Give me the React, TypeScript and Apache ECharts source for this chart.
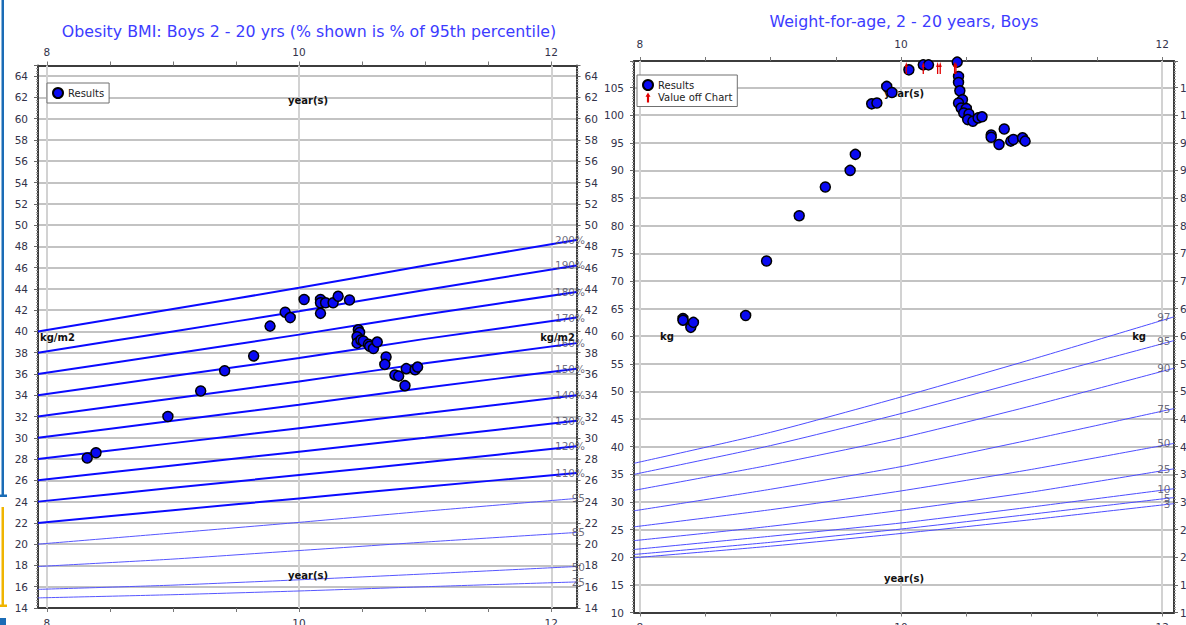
import React, { useEffect, useRef } from 'react';
import * as echarts from 'echarts';

const FONT = '"DejaVu Sans", Verdana, sans-serif';

// ---------------- shared age axis ----------------
const ageTicks = [8, 8.5, 9, 9.5, 10, 10.5, 11, 11.5, 12];
const ageLabels = [8, 10, 12];
const ageGridLines = [8, 10, 12];

// ---------------- Obesity BMI (left chart) ----------------
const bmiTitle = 'Obesity BMI: Boys 2 - 20 yrs (% shown is % of 95th percentile)';
const bmiAgeMin = 7.93;
const bmiAgeMax = 12.2;
const bmiMin = 14;
const bmiMax = 65;
const bmiInterval = 2;

const bmiCurveAges = [7.93, 9, 10, 11, 12.2];
const bmiPct200 = [40.0, 42.1, 44.1, 46.2, 48.6];
const bmiPct190 = [38.0, 40.0, 41.9, 43.9, 46.2];
const bmiPct180 = [36.0, 37.9, 39.7, 41.6, 43.7];
const bmiPct170 = [34.0, 35.8, 37.5, 39.3, 41.3];
const bmiPct160 = [32.0, 33.7, 35.3, 37.0, 38.9];
const bmiPct150 = [30.0, 31.6, 33.1, 34.7, 36.5];
const bmiPct140 = [28.0, 29.5, 30.9, 32.3, 34.0];
const bmiPct130 = [26.0, 27.4, 28.7, 30.0, 31.6];
const bmiPct120 = [24.0, 25.3, 26.5, 27.7, 29.2];
const bmiPct110 = [22.0, 23.2, 24.3, 25.4, 26.7];
const bmiP95 = [20.0, 21.05, 22.05, 23.1, 24.3];
const bmiP85 = [17.9, 18.6, 19.4, 20.2, 21.1];
const bmiP50 = [15.75, 16.15, 16.65, 17.2, 17.9];
const bmiP25 = [14.95, 15.25, 15.6, 16.0, 16.45];

const bmiPercentCurves = [
  { label: '200%', values: bmiPct200 },
  { label: '190%', values: bmiPct190 },
  { label: '180%', values: bmiPct180 },
  { label: '170%', values: bmiPct170 },
  { label: '160%', values: bmiPct160 },
  { label: '150%', values: bmiPct150 },
  { label: '140%', values: bmiPct140 },
  { label: '130%', values: bmiPct130 },
  { label: '120%', values: bmiPct120 },
  { label: '110%', values: bmiPct110 },
];
const bmiPercentileCurves = [
  { label: '95', values: bmiP95 },
  { label: '85', values: bmiP85 },
  { label: '50', values: bmiP50 },
  { label: '25', values: bmiP25 },
];

const bmiResultAges = [
  8.32, 8.39, 8.96, 9.22, 9.41, 9.64, 9.77, 9.89, 9.93, 10.04, 10.17, 10.17, 10.21, 10.17,
  10.27, 10.31, 10.4, 10.47, 10.48, 10.46, 10.46, 10.49, 10.51, 10.55, 10.56, 10.59, 10.62,
  10.69, 10.68, 10.76, 10.79, 10.84, 10.85, 10.92, 10.94,
];
const bmiResultValues = [
  28.1, 28.6, 32.0, 34.4, 36.3, 37.7, 40.5, 41.8, 41.3, 43.0, 43.0, 42.7, 42.7, 41.7,
  42.7, 43.3, 42.95, 40.15, 39.9, 39.5, 38.9, 39.2, 39.1, 38.8, 38.6, 38.4, 39.0,
  37.6, 36.9, 35.9, 35.8, 34.9, 36.5, 36.4, 36.65,
];

// ---------------- Weight-for-age (right chart) ----------------
const weightTitle = 'Weight-for-age, 2 - 20 years, Boys';
const weightAgeMin = 7.955;
const weightAgeMax = 12.09;
const weightMin = 10;
const weightMax = 109.8;
const weightInterval = 5;

const weightCurveAges = [7.955, 9, 10, 11, 12.09];
const wP97 = [37.0, 42.6, 49.0, 55.8, 63.5];
const wP95 = [35.0, 40.2, 46.0, 52.3, 59.2];
const wP90 = [32.1, 36.7, 41.6, 47.4, 54.2];
const wP75 = [28.4, 32.3, 36.4, 41.3, 46.9];
const wP50 = [25.5, 28.6, 32.0, 35.9, 40.6];
const wP25 = [23.0, 25.6, 28.5, 31.8, 36.0];
const wP10 = [21.4, 23.8, 26.2, 29.1, 32.4];
const wP5 = [20.5, 22.7, 25.1, 27.8, 30.8];
const wP3 = [19.9, 22.0, 24.3, 26.8, 29.7];

const weightCurves = [
  { label: '97', values: wP97 },
  { label: '95', values: wP95 },
  { label: '90', values: wP90 },
  { label: '75', values: wP75 },
  { label: '50', values: wP50 },
  { label: '25', values: wP25 },
  { label: '10', values: wP10 },
  { label: '5', values: wP5 },
  { label: '3', values: wP3 },
];

const weightResultAges = [
  8.33, 8.33, 8.39, 8.41, 8.81, 8.97, 9.22, 9.42, 9.61, 9.65, 9.775, 9.815, 9.89, 9.93,
  10.06, 10.17, 10.21, 10.43, 10.44, 10.44, 10.45, 10.47, 10.44, 10.46, 10.5, 10.48, 10.52,
  10.51, 10.55, 10.59, 10.62, 10.69, 10.69, 10.79, 10.75, 10.84, 10.86, 10.93, 10.95,
];
const weightResultValues = [
  63.2, 62.9, 61.6, 62.5, 63.75, 73.6, 81.8, 87.0, 90.0, 92.9, 102.05, 102.2, 105.2, 104.1,
  108.2, 109.1, 109.1, 109.6, 107.0, 105.9, 104.4, 102.8, 102.2, 101.3, 101.2, 100.4, 100.2,
  99.2, 98.9, 99.5, 99.7, 96.4, 96.0, 97.5, 94.7, 95.3, 95.6, 95.9, 95.3,
];
// ages of results whose weight is above the chart's top
const offChartAges = [10.04, 10.17, 10.28, 10.3, 10.41, 10.42];

// ---------------- styles ----------------
const FRAME = { color: '#3c3c3c', width: 2 };
const LABEL = { color: '#33334a', fontSize: 10.5, fontFamily: FONT };
const HEAVY_LINE = { color: '#0a0aff', width: 2 };
const THIN_LINE = { color: '#5656ff', width: 1 };
const WEIGHT_LINE = { color: '#4d4dff', width: 1 };
const ARROW_PATH = 'path://M3,0 L6,5 L4.3,5 L4.3,12 L1.7,12 L1.7,5 L0,5 Z';

function xAxisCfg(gridIndex: number, position: string, min: number, max: number, margin: number) {
  return {
    type: 'value',
    gridIndex,
    position,
    min,
    max,
    axisLine: { show: true, onZero: false, lineStyle: FRAME },
    axisTick: { show: true, length: 4, customValues: ageTicks, lineStyle: { color: '#777', width: 1 } },
    axisLabel: { ...LABEL, margin, customValues: ageLabels },
    splitLine: { show: false },
  };
}

function yAxisCfg(
  gridIndex: number,
  position: string,
  min: number,
  max: number,
  interval: number,
  minorSplit: number,
  margin: number,
  showSplit: boolean,
) {
  return {
    type: 'value',
    gridIndex,
    position,
    min,
    max,
    interval,
    axisLine: { show: true, onZero: false, lineStyle: FRAME },
    axisTick: { show: true, length: 4, lineStyle: { color: '#666', width: 1 } },
    minorTick: { show: true, splitNumber: minorSplit, length: 2, lineStyle: { color: '#999', width: 1 } },
    axisLabel: {
      ...LABEL,
      margin,
      formatter: (v: number) => {
        const r = v / interval;
        return Math.abs(r - Math.round(r)) < 1e-6 ? String(Math.round(v)) : '';
      },
    },
    splitLine: { show: showSplit, lineStyle: { color: '#c3c3c3', width: 2 } },
    minorSplitLine: { show: false },
  };
}

function curveSeries(name: string, ages: number[], values: number[], axis: number, lineStyle: any, extra: any = {}) {
  return {
    type: 'line',
    name,
    xAxisIndex: axis,
    yAxisIndex: axis,
    data: ages.map((a, i) => [a, values[i]]),
    smooth: 0.2,
    symbol: 'none',
    showSymbol: false,
    silent: true,
    lineStyle,
    z: 3,
    ...extra,
  };
}

function endLabelSeries(curves: { label: string; values: number[] }[], ages: number[], axis: number, distance: number) {
  const last = ages.length - 1;
  return {
    type: 'scatter',
    xAxisIndex: axis,
    yAxisIndex: axis,
    silent: true,
    clip: false,
    symbolSize: 1,
    itemStyle: { color: 'rgba(0,0,0,0)' },
    z: 4,
    data: curves.map((c) => ({ name: c.label, value: [ages[last], c.values[last]] })),
    label: {
      show: true,
      position: 'left',
      distance,
      formatter: '{b}',
      color: '#4a4a5e',
      fontSize: 10.5,
      fontFamily: FONT,
    },
  };
}

function gridLineMarks() {
  return {
    silent: true,
    symbol: ['none', 'none'],
    z: 1,
    label: { show: false },
    lineStyle: { color: '#d2d2d2', width: 2, type: 'solid' },
    data: ageGridLines.map((a) => ({ xAxis: a })),
  };
}

const RESULT_STYLE = { color: '#0a0af2', borderColor: '#000', borderWidth: 1.5, opacity: 1 };

function unitText(text: string, x: number, y: number, align: string) {
  return {
    type: 'text',
    x,
    y,
    z: 4,
    style: { text, align, verticalAlign: 'middle', fill: '#111', font: `bold 10px ${FONT}` },
  };
}

function buildOption() {
  const leftLines = [
    ...bmiPercentCurves.map((c, i) =>
      curveSeries(c.label, bmiCurveAges, c.values, 0, HEAVY_LINE, i === 0 ? { markLine: gridLineMarks() } : {}),
    ),
    ...bmiPercentileCurves.map((c) => curveSeries(c.label, bmiCurveAges, c.values, 0, THIN_LINE)),
  ];
  const rightLines = weightCurves.map((c, i) =>
    curveSeries('w' + c.label, weightCurveAges, c.values, 2, WEIGHT_LINE, i === 0 ? { markLine: gridLineMarks() } : {}),
  );

  return {
    animation: false,
    backgroundColor: '#ffffff',
    title: [
      {
        text: bmiTitle,
        left: 309,
        top: 23,
        padding: 0,
        textAlign: 'center',
        textStyle: { color: '#3c3cff', fontSize: 15.8, fontWeight: 'normal', fontFamily: FONT },
      },
      {
        text: weightTitle,
        left: 904,
        top: 13,
        padding: 0,
        textAlign: 'center',
        textStyle: { color: '#3c3cff', fontSize: 15.8, fontWeight: 'normal', fontFamily: FONT },
      },
    ],
    legend: [
      {
        left: 47,
        top: 83,
        orient: 'vertical',
        data: ['Results'],
        padding: [4, 5, 4, 5],
        itemWidth: 10,
        itemHeight: 10,
        itemGap: 2,
        selectedMode: false,
        backgroundColor: '#fff',
        borderColor: '#707070',
        borderWidth: 1,
        textStyle: { color: '#222', fontSize: 10, fontFamily: FONT },
      },
      {
        left: 637,
        top: 75,
        orient: 'vertical',
        data: ['Results', 'Value off Chart'],
        padding: [4, 5, 4, 5],
        itemWidth: 10,
        itemHeight: 10,
        itemGap: 1.5,
        selectedMode: false,
        backgroundColor: '#fff',
        borderColor: '#707070',
        borderWidth: 1,
        textStyle: { color: '#222', fontSize: 10, fontFamily: FONT },
      },
    ],
    grid: [
      { left: 38, top: 65.5, width: 538.5, height: 542.5, containLabel: false, outerBoundsMode: 'none' },
      { left: 634, top: 61, width: 540, height: 551.5, containLabel: false, outerBoundsMode: 'none' },
    ],
    xAxis: [
      xAxisCfg(0, 'bottom', bmiAgeMin, bmiAgeMax, 9),
      xAxisCfg(0, 'top', bmiAgeMin, bmiAgeMax, 8),
      xAxisCfg(1, 'bottom', weightAgeMin, weightAgeMax, 9),
      xAxisCfg(1, 'top', weightAgeMin, weightAgeMax, 12),
    ],
    yAxis: [
      yAxisCfg(0, 'left', bmiMin, bmiMax, bmiInterval, 8, 10, true),
      yAxisCfg(0, 'right', bmiMin, bmiMax, bmiInterval, 8, 8, false),
      yAxisCfg(1, 'left', weightMin, weightMax, weightInterval, 10, 10, true),
      yAxisCfg(1, 'right', weightMin, weightMax, weightInterval, 10, 6, false),
    ],
    series: [
      ...leftLines,
      endLabelSeries([...bmiPercentCurves, ...bmiPercentileCurves], bmiCurveAges, 0, -9),
      {
        type: 'scatter',
        name: 'Results',
        xAxisIndex: 0,
        yAxisIndex: 0,
        symbol: 'circle',
        symbolSize: 10,
        clip: false,
        z: 5,
        itemStyle: RESULT_STYLE,
        data: bmiResultAges.map((a, i) => [a, bmiResultValues[i]]),
      },
      ...rightLines,
      endLabelSeries(weightCurves, weightCurveAges, 2, 3),
      {
        type: 'scatter',
        name: 'Results',
        xAxisIndex: 2,
        yAxisIndex: 2,
        symbol: 'circle',
        symbolSize: 10,
        clip: false,
        z: 5,
        itemStyle: RESULT_STYLE,
        data: weightResultAges.map((a, i) => [a, weightResultValues[i]]),
      },
      {
        type: 'scatter',
        name: 'Value off Chart',
        xAxisIndex: 2,
        yAxisIndex: 2,
        symbol: ARROW_PATH,
        symbolKeepAspect: true,
        symbolSize: [6, 12],
        symbolOffset: [0, 7],
        clip: false,
        z: 6,
        itemStyle: { color: '#e00000', opacity: 1 },
        data: offChartAges.map((a) => [a, weightMax]),
      },
    ],
    graphic: [
      { type: 'rect', shape: { x: 1.5, y: 0, width: 2.5, height: 497 }, style: { fill: '#1b6cb6' } },
      { type: 'rect', shape: { x: 0, y: 494.5, width: 7, height: 2.5 }, style: { fill: '#1b6cb6' } },
      { type: 'rect', shape: { x: 1.5, y: 507, width: 2.5, height: 100 }, style: { fill: '#f0b400' } },
      { type: 'rect', shape: { x: 0, y: 604.5, width: 7, height: 2.5 }, style: { fill: '#f0b400' } },
      { type: 'rect', shape: { x: 0, y: 618, width: 6, height: 7 }, style: { fill: '#1b6cb6' } },
      unitText('year(s)', 308, 100, 'center'),
      unitText('year(s)', 308, 575, 'center'),
      unitText('kg/m2', 40, 337, 'left'),
      unitText('kg/m2', 575, 337, 'right'),
      unitText('year(s)', 904, 93, 'center'),
      unitText('year(s)', 904, 578, 'center'),
      unitText('kg', 660, 336, 'left'),
      unitText('kg', 1146, 336, 'right'),
    ],
  };
}

export default function App() {
  const ref = useRef<HTMLDivElement>(null);
  useEffect(() => {
    if (!ref.current) return;
    const chart = echarts.init(ref.current, null, { renderer: 'svg' });
    chart.setOption(buildOption() as any);
    return () => chart.dispose();
  }, []);
  return (
    <div
      ref={ref}
      style={{ position: 'fixed', left: 0, top: 0, width: 1186, height: 625, background: '#fff' }}
    />
  );
}
